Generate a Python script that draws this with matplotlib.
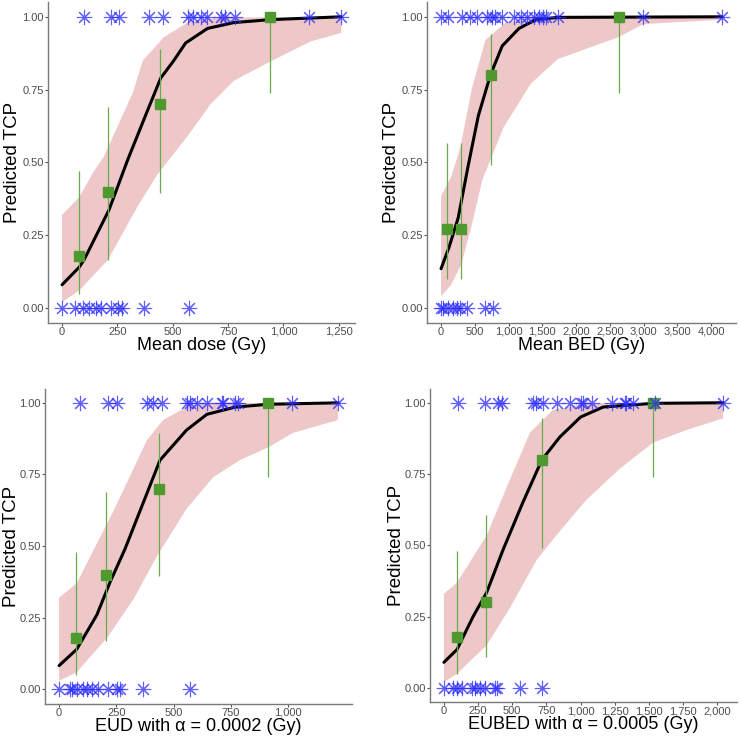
import matplotlib
matplotlib.use('Agg')
import matplotlib.pyplot as plt
import numpy as np

plt.rcParams['font.family'] = ['Liberation Sans', 'DejaVu Sans']

# ---- panel 1 : mean dose
dose_pos = [99, 221, 257, 392, 455, 568, 590, 626, 653, 716, 734, 779, 1117, 1261]
dose_neg = [0, 58, 95, 122, 153, 176, 221, 252, 270, 369, 572]
dose_bin_x = [77, 207, 441, 937]
dose_bin_y = [0.18, 0.40, 0.70, 1.00]
dose_bin_lo = [0.05, 0.165, 0.395, 0.74]
dose_bin_hi = [0.47, 0.69, 0.89, 1.00]
dose_fit_x = [0, 77, 99, 212, 297, 387, 446, 505, 558, 657, 775, 937, 1261]
dose_fit_y = [0.08, 0.14, 0.165, 0.337, 0.51, 0.68, 0.79, 0.85, 0.91, 0.96, 0.98, 0.99, 1.0]
dose_up_x = [0, 77, 144, 189, 320, 365, 460, 567, 700, 1261]
dose_up_y = [0.32, 0.38, 0.47, 0.52, 0.74, 0.85, 0.93, 0.98, 0.997, 1.0]
dose_lo_x = [0, 77, 207, 342, 432, 567, 671, 775, 937, 1122, 1261]
dose_lo_y = [0.02, 0.06, 0.165, 0.35, 0.46, 0.59, 0.70, 0.78, 0.845, 0.915, 0.945]

# ---- panel 2 : mean BED
bed_pos = [0, 109, 309, 433, 533, 682, 757, 806, 906, 1079, 1179, 1279, 1378, 1452,
           1503, 1552, 1727, 2996, 4164]
bed_neg = [0, 30, 104, 179, 239, 284, 388, 657, 776]
bed_bin_x = [90, 298, 746, 2640]
bed_bin_y = [0.27, 0.27, 0.80, 1.00]
bed_bin_lo = [0.10, 0.10, 0.49, 0.74]
bed_bin_hi = [0.565, 0.565, 0.94, 1.00]
bed_fit_x = [0, 120, 254, 403, 552, 731, 906, 1154, 1403, 1727, 4164]
bed_fit_y = [0.135, 0.21, 0.31, 0.49, 0.66, 0.80, 0.90, 0.96, 0.99, 0.998, 1.0]
bed_up_x = [0, 150, 284, 458, 657, 955, 1400, 4164]
bed_up_y = [0.385, 0.45, 0.55, 0.755, 0.92, 0.98, 0.998, 1.0]
bed_lo_x = [0, 150, 300, 450, 612, 925, 1328, 1731, 2627, 3000, 4164]
bed_lo_y = [0.04, 0.08, 0.15, 0.28, 0.44, 0.62, 0.77, 0.855, 0.93, 0.975, 0.99]

# ---- panel 3 : EUD
eud_pos = [92, 215, 252, 383, 412, 448, 557, 572, 601, 645, 710, 717, 769, 783, 1019, 1220]
eud_neg = [0, 48, 55, 80, 103, 121, 143, 172, 215, 252, 266, 368, 572]
eud_bin_x = [73, 205, 437, 914]
eud_bin_y = [0.18, 0.40, 0.70, 1.00]
eud_bin_lo = [0.05, 0.17, 0.395, 0.74]
eud_bin_hi = [0.48, 0.69, 0.895, 1.00]
eud_fit_x = [0, 77, 165, 223, 288, 367, 441, 557, 646, 769, 914, 1220]
eud_fit_y = [0.083, 0.14, 0.26, 0.375, 0.49, 0.65, 0.80, 0.905, 0.96, 0.985, 0.995, 1.0]
eud_up_x = [0, 77, 140, 236, 325, 384, 454, 557, 650, 1220]
eud_up_y = [0.32, 0.37, 0.47, 0.62, 0.77, 0.87, 0.94, 0.985, 1.0, 1.0]
eud_lo_x = [0, 77, 210, 325, 428, 557, 673, 790, 914, 1022, 1218]
eud_lo_y = [0.03, 0.06, 0.18, 0.315, 0.465, 0.63, 0.74, 0.80, 0.845, 0.895, 0.94]

# ---- panel 4 : EUBED
eubed_pos = [105, 300, 397, 422, 653, 677, 726, 824, 921, 1006, 1018, 1080, 1226, 1323,
             1335, 1384, 1542, 2042]
eubed_neg = [0, 68, 97, 129, 202, 227, 263, 300, 373, 385, 556, 714]
eubed_bin_x = [96, 305, 717, 1529]
eubed_bin_y = [0.18, 0.30, 0.80, 1.00]
eubed_bin_lo = [0.05, 0.11, 0.49, 0.74]
eubed_bin_hi = [0.48, 0.605, 0.945, 1.00]
eubed_fit_x = [0, 96, 213, 313, 433, 577, 717, 848, 1000, 1165, 1529, 2042]
eubed_fit_y = [0.09, 0.135, 0.25, 0.335, 0.485, 0.65, 0.80, 0.88, 0.95, 0.985, 0.998, 1.0]
eubed_up_x = [0, 96, 312, 482, 629, 797, 1043, 2042]
eubed_up_y = [0.33, 0.37, 0.534, 0.73, 0.895, 0.975, 0.998, 1.0]
eubed_lo_x = [0, 96, 313, 482, 680, 848, 1043, 1290, 1529, 1778, 2042]
eubed_lo_y = [0.02, 0.05, 0.15, 0.28, 0.45, 0.55, 0.66, 0.77, 0.86, 0.905, 0.945]

panels = [
    dict(pos=dose_pos, neg=dose_neg, bx=dose_bin_x, by=dose_bin_y, blo=dose_bin_lo, bhi=dose_bin_hi,
         fx=dose_fit_x, fy=dose_fit_y, ux=dose_up_x, uy=dose_up_y, lx=dose_lo_x, ly=dose_lo_y,
         xlabel='Mean dose (Gy)', ticks=[0, 250, 500, 750, 1000, 1250],
         rect=[0.065, 0.564, 0.415, 0.433], xl=-0.046, yl=-0.088),
    dict(pos=bed_pos, neg=bed_neg, bx=bed_bin_x, by=bed_bin_y, blo=bed_bin_lo, bhi=bed_bin_hi,
         fx=bed_fit_x, fy=bed_fit_y, ux=bed_up_x, uy=bed_up_y, lx=bed_lo_x, ly=bed_lo_y,
         xlabel='Mean BED (Gy)', ticks=[0, 500, 1000, 1500, 2000, 2500, 3000, 3500, 4000],
         rect=[0.577, 0.564, 0.418, 0.433], xl=-0.046, yl=-0.087),
    dict(pos=eud_pos, neg=eud_neg, bx=eud_bin_x, by=eud_bin_y, blo=eud_bin_lo, bhi=eud_bin_hi,
         fx=eud_fit_x, fy=eud_fit_y, ux=eud_up_x, uy=eud_up_y, lx=eud_lo_x, ly=eud_lo_y,
         xlabel='EUD with \u03b1 = 0.0002 (Gy)', ticks=[0, 250, 500, 750, 1000],
         rect=[0.061, 0.049, 0.415, 0.426], xl=-0.045, yl=-0.082),
    dict(pos=eubed_pos, neg=eubed_neg, bx=eubed_bin_x, by=eubed_bin_y, blo=eubed_bin_lo, bhi=eubed_bin_hi,
         fx=eubed_fit_x, fy=eubed_fit_y, ux=eubed_up_x, uy=eubed_up_y, lx=eubed_lo_x, ly=eubed_lo_y,
         xlabel='EUBED with \u03b1 = 0.0005 (Gy)',
         ticks=[0, 250, 500, 750, 1000, 1250, 1500, 1750, 2000],
         rect=[0.581, 0.051, 0.415, 0.424], xl=-0.045, yl=-0.081),
]

fig = plt.figure(figsize=(7.4, 7.4), dpi=100)

for p in panels:
    ax = fig.add_axes(p['rect'])
    # confidence ribbon
    poly_x = list(p['ux']) + list(p['lx'])[::-1]
    poly_y = list(p['uy']) + list(p['ly'])[::-1]
    ax.fill(poly_x, poly_y, color='#eec8c8', lw=0, zorder=1)
    # fitted curve
    ax.plot(p['fx'], p['fy'], color='black', lw=2.2, zorder=3, solid_capstyle='round')
    # binned observations
    ax.vlines(p['bx'], p['blo'], p['bhi'], color='#6aaa4f', lw=0.9, zorder=4)
    ax.plot(p['bx'], p['by'], 's', color='#4f9a2f', ms=6.5, zorder=5)
    # individual outcomes
    ax.plot(p['pos'], np.ones(len(p['pos'])), ls='none', marker=(8, 2, 0), ms=11,
            mew=0.8, color='#2a2aff', alpha=0.75, zorder=6)
    ax.plot(p['neg'], np.zeros(len(p['neg'])), ls='none', marker=(8, 2, 0), ms=11,
            mew=0.8, color='#2a2aff', alpha=0.75, zorder=6)

    xmax = max(p['pos'] + p['neg'])
    ax.set_xlim(-0.05 * xmax, 1.05 * xmax)
    ax.set_ylim(-0.05, 1.05)
    ax.set_xticks(p['ticks'])
    ax.set_xticklabels([f'{t:,}' for t in p['ticks']])
    ax.set_yticks([0, 0.25, 0.5, 0.75, 1.0])
    ax.set_yticklabels(['0.00', '0.25', '0.50', '0.75', '1.00'])
    for s in ['top', 'right']:
        ax.spines[s].set_visible(False)
    for s in ['left', 'bottom']:
        ax.spines[s].set_color('#7a7a7a')
        ax.spines[s].set_linewidth(1.0)
    ax.tick_params(length=2.5, width=0.8, color='#555555', labelcolor='#4d4d4d',
                   labelsize=8, pad=0.5)
    ax.set_xlabel(p['xlabel'], fontsize=13)
    ax.set_ylabel('Predicted TCP', fontsize=13.5)
    ax.xaxis.set_label_coords(0.5, p['xl'])
    ax.yaxis.set_label_coords(p['yl'], 0.5)

fig.savefig('out.png', dpi=100)
